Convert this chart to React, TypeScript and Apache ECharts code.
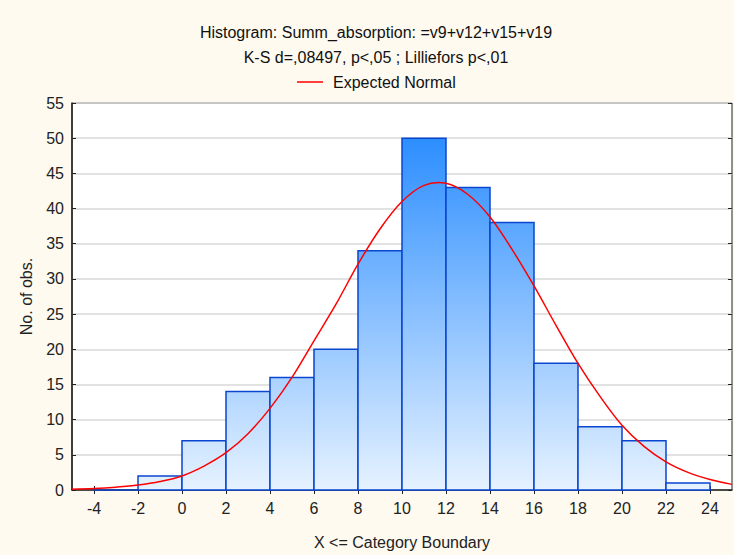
import React, { useEffect, useRef } from "react";
import * as echarts from "echarts";

const titleLine1 = "Histogram: Summ_absorption: =v9+v12+v15+v19";
const titleLine2 = "K-S d=,08497, p<,05 ; Lilliefors p<,01";
const legendLabel = "Expected Normal";
const xAxisTitle = "X <= Category Boundary";
const yAxisTitle = "No. of obs.";

const binLower = [-4, -2, 0, 2, 4, 6, 8, 10, 12, 14, 16, 18, 20, 22];
const binUpper = [-2, 0, 2, 4, 6, 8, 10, 12, 14, 16, 18, 20, 22, 24];
const binCounts = [0, 2, 7, 14, 16, 20, 34, 50, 43, 38, 18, 9, 7, 1];

const curveX = [-5, -4, -3, -2, -1, 0, 1, 2, 3, 4, 5, 6, 7, 8, 9, 10, 11, 12, 13, 14, 15, 16, 17, 18, 19, 20, 21, 22, 23, 24, 25];
const curveY = [0.1, 0.2, 0.4, 0.7, 1.2, 2.0, 3.4, 5.3, 8.0, 11.6, 16.0, 21.2, 26.4, 32.1, 37.1, 41.0, 43.3, 43.6, 42.0, 38.8, 34.2, 29.0, 23.4, 18.0, 13.3, 9.2, 6.2, 4.0, 2.5, 1.5, 0.8];

const xTicks = [-4, -2, 0, 2, 4, 6, 8, 10, 12, 14, 16, 18, 20, 22, 24];

const FONT = "'Liberation Sans', Arial, sans-serif";
const FS = 16;

export default function App() {
  const ref = useRef<HTMLDivElement>(null);
  useEffect(() => {
    if (!ref.current) return;
    const chart = echarts.init(ref.current, undefined, { renderer: "svg" });
    const barData = binLower.map((lo, i) => [lo, binUpper[i], binCounts[i]]);
    const lineData = curveX.map((x, i) => [x, curveY[i]]);
    const tickCommon = { show: true, inside: true, length: 4, lineStyle: { color: "#222", width: 1 } };
    chart.setOption({
      animation: false,
      backgroundColor: "#fefaf0",
      textStyle: { fontFamily: FONT },
      grid: {
        left: 72,
        width: 660,
        top: 103,
        height: 393,
        show: true,
        backgroundColor: "#ffffff",
        borderColor: "#222",
        borderWidth: 1,
      },
      xAxis: [
        {
          type: "value",
          min: -5,
          max: 25,
          axisLine: { show: true, onZero: false, lineStyle: { color: "#222", width: 1.5 } },
          axisTick: { ...tickCommon, customValues: xTicks },
          axisLabel: { customValues: xTicks, color: "#222", fontSize: FS, margin: 10, fontFamily: FONT },
          splitLine: { show: false },
          name: xAxisTitle,
          nameLocation: "middle",
          nameGap: 44,
          nameTextStyle: { color: "#222", fontSize: FS, fontFamily: FONT },
        },
        {
          type: "value",
          position: "top",
          min: -5,
          max: 25,
          axisLine: { show: false },
          axisTick: { ...tickCommon, customValues: xTicks },
          axisLabel: { show: false },
          splitLine: { show: false },
        },
      ],
      yAxis: [
        {
          type: "value",
          min: 0,
          max: 55,
          interval: 5,
          axisLine: { show: true, onZero: false, lineStyle: { color: "#222", width: 1.5 } },
          axisTick: tickCommon,
          axisLabel: { color: "#222", fontSize: FS, margin: 8, fontFamily: FONT },
          splitLine: { show: true, lineStyle: { color: "#d9d9d9", width: 1.5 } },
          name: yAxisTitle,
          nameLocation: "middle",
          nameGap: 38,
          nameTextStyle: { color: "#222", fontSize: FS, fontFamily: FONT },
        },
        {
          type: "value",
          position: "right",
          min: 0,
          max: 55,
          interval: 5,
          axisLine: { show: false, onZero: false },
          axisTick: tickCommon,
          axisLabel: { show: false },
          splitLine: { show: false },
        },
      ],
      graphic: [
        {
          type: "text",
          x: 376,
          y: 32,
          style: { text: titleLine1, align: "center", verticalAlign: "middle", fill: "#111", font: `${FS}px ${FONT}` },
        },
        {
          type: "text",
          x: 376,
          y: 57,
          style: { text: titleLine2, align: "center", verticalAlign: "middle", fill: "#111", font: `${FS}px ${FONT}` },
        },
        {
          type: "line",
          shape: { x1: 297, y1: 82, x2: 323, y2: 82 },
          style: { stroke: "#ff0000", lineWidth: 1.5 },
        },
        {
          type: "text",
          x: 333,
          y: 82,
          style: { text: legendLabel, align: "left", verticalAlign: "middle", fill: "#111", font: `${FS}px ${FONT}` },
        },
      ],
      series: [
        {
          type: "custom",
          xAxisIndex: 0,
          yAxisIndex: 0,
          data: barData,
          encode: { x: [0, 1], y: 2 },
          renderItem: (params: any, api: any) => {
            const lo = api.value(0);
            const hi = api.value(1);
            const v = api.value(2);
            const p1 = api.coord([lo, v]);
            const p2 = api.coord([hi, 0]);
            const yTop = api.coord([0, 55])[1];
            const yBot = api.coord([0, 0])[1];
            const fill = new echarts.graphic.LinearGradient(
              0, yTop, 0, yBot,
              [
                { offset: 0, color: "#1a84ff" },
                { offset: 1, color: "#e6f2ff" },
              ],
              true
            );
            return {
              type: "rect",
              shape: { x: p1[0], y: p1[1], width: p2[0] - p1[0], height: p2[1] - p1[1] },
              style: { fill, stroke: "#0a46d0", lineWidth: 1.5 },
            };
          },
          z: 2,
        },
        {
          type: "custom",
          name: legendLabel,
          xAxisIndex: 0,
          yAxisIndex: 0,
          data: lineData,
          encode: { x: 0, y: 1 },
          renderItem: (params: any, api: any) => {
            if (params.dataIndex !== 0) return null;
            const points = lineData.map((d) => api.coord(d));
            return {
              type: "polyline",
              shape: { points, smooth: 0.35 },
              style: { stroke: "#ff0000", fill: "none", lineWidth: 1.5 },
            };
          },
          z: 3,
        },
      ],
    });
    return () => chart.dispose();
  }, []);
  return <div ref={ref} style={{ width: 734, height: 555, position: "absolute", left: 0, top: 0 }} />;
}
